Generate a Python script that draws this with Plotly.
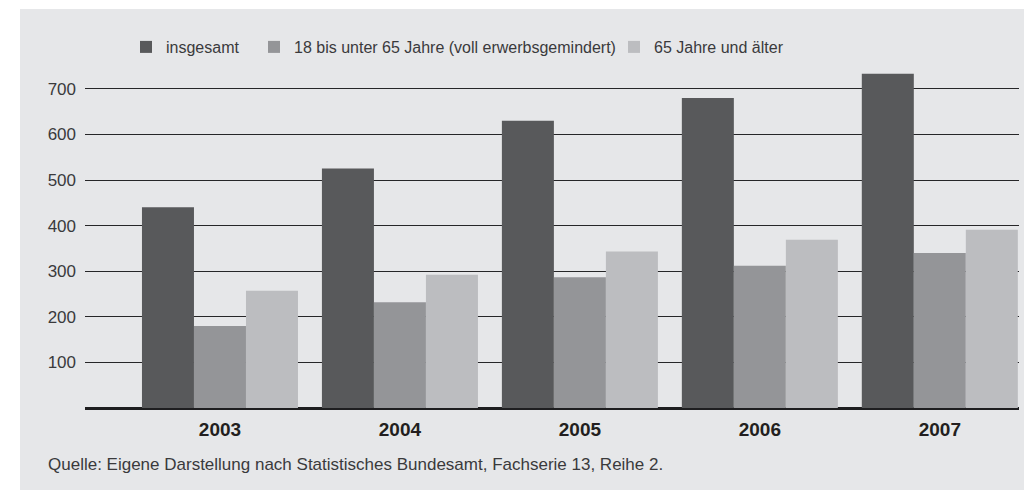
import plotly.graph_objects as go

years = ["2003", "2004", "2005", "2006", "2007"]
insgesamt = [440, 525, 630, 680, 733]
erwerbsgemindert = [180, 232, 287, 312, 340]
ab_65 = [257, 292, 343, 369, 391]

series_names = [
    "insgesamt",
    "18 bis unter 65 Jahre (voll erwerbsgemindert)",
    "65 Jahre und älter",
]
colors = ["#58595b", "#949598", "#bcbdc0"]
legend_widths = [83, 315, None]
y_ticks = [100, 200, 300, 400, 500, 600, 700]

FONT = "Liberation Sans, Arial, sans-serif"
W, H = 1024, 490
ML, MR, MT, MB = 85, 5, 60, 82
pw = W - ML - MR
ph = H - MT - MB

fig = go.Figure()
for name, vals, col, lw in zip(series_names, [insgesamt, erwerbsgemindert, ab_65], colors, legend_widths):
    fig.add_bar(x=years, y=vals, name=name, legendwidth=lw,
                marker=dict(color=col, line=dict(width=0)))

# grey panel behind the whole chart
fig.add_shape(
    type="rect", xref="paper", yref="paper", layer="below",
    x0=(20 - ML) / pw, x1=(W - ML + 10) / pw,
    y0=-(MB + 20) / ph, y1=(H - MB - 9) / ph,
    fillcolor="#e6e7e9", line=dict(width=0),
)

fig.add_annotation(
    text="Quelle: Eigene Darstellung nach Statistisches Bundesamt, Fachserie 13, Reihe 2.",
    xref="paper", yref="paper", x=(46 - ML) / pw, y=(H - MB - 464) / ph,
    xanchor="left", yanchor="middle", showarrow=False,
    font=dict(size=17, color="#3a3a3c"),
)

fig.update_layout(
    width=W, height=H,
    margin=dict(l=ML, r=MR, t=MT, b=MB),
    paper_bgcolor="white",
    plot_bgcolor="rgba(0,0,0,0)",
    font=dict(family=FONT, size=17, color="#3a3a3c"),
    barmode="group",
    bargap=0.133,
    bargroupgap=0,
    showlegend=True,
    legend=dict(
        orientation="h", x=(126 - ML) / pw, y=(H - MB - 47) / ph,
        xanchor="left", yanchor="middle",
        bgcolor="rgba(0,0,0,0)", font=dict(size=16),
        itemwidth=30, traceorder="normal",
    ),
)
fig.update_xaxes(
    range=[-0.75, 4.44],
    showgrid=False, ticks="", showline=False,
    tickfont=dict(size=19, color="#231f20", weight="bold"),
    ticklabelstandoff=8,
)
fig.update_yaxes(
    range=[0, ph / 0.456],
    tickvals=y_ticks,
    showgrid=True, gridcolor="#262628", gridwidth=1.4,
    zeroline=True, zerolinecolor="#1e1e20", zerolinewidth=3,
    showline=False, ticks="",
    ticklabelstandoff=8,
    tickfont=dict(size=17, color="#3a3a3c"),
)

# the page has a default 8px body margin; remove it so the chart sits at (0, 0)
fig.write_html("out.html", config={"displayModeBar": False},
               post_script="document.body.style.margin='0';")
